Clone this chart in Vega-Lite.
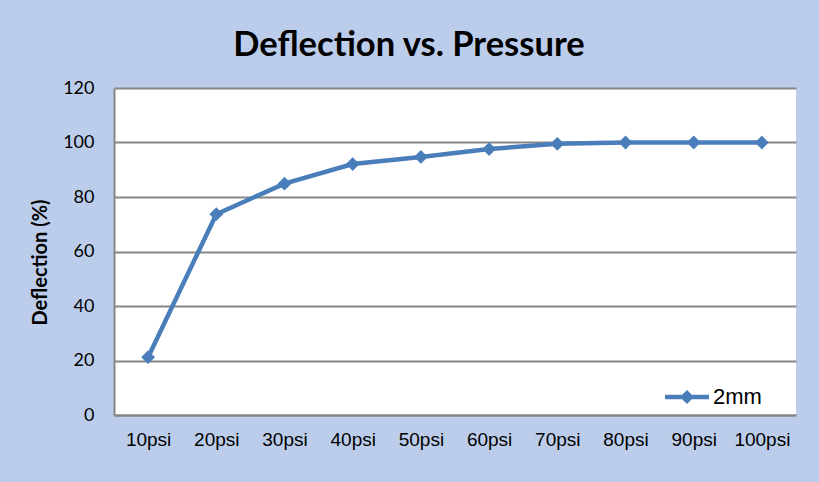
{
  "$schema": "https://vega.github.io/schema/vega-lite/v6.json",
  "width": 682,
  "height": 327,
  "autosize": "none",
  "padding": {"left": 114, "top": 88, "right": 23, "bottom": 67},
  "background": "#bccdeb",
  "title": {
    "text": "Deflection vs. Pressure",
    "font": "Lato",
    "fontSize": 34.5,
    "fontWeight": "bold",
    "color": "#000000",
    "anchor": "middle",
    "frame": "group",
    "baseline": "alphabetic",
    "dx": -46,
    "dy": 33,
    "offset": 22
  },
  "config": {
    "view": {"fill": "white", "stroke": null}
  },
  "data": {
    "values": [
      {"pressure": "10psi", "deflection": 21.2, "series": "2mm"},
      {"pressure": "20psi", "deflection": 73.7, "series": "2mm"},
      {"pressure": "30psi", "deflection": 84.9, "series": "2mm"},
      {"pressure": "40psi", "deflection": 92.1, "series": "2mm"},
      {"pressure": "50psi", "deflection": 94.7, "series": "2mm"},
      {"pressure": "60psi", "deflection": 97.6, "series": "2mm"},
      {"pressure": "70psi", "deflection": 99.5, "series": "2mm"},
      {"pressure": "80psi", "deflection": 100, "series": "2mm"},
      {"pressure": "90psi", "deflection": 100, "series": "2mm"},
      {"pressure": "100psi", "deflection": 100, "series": "2mm"}
    ]
  },
  "mark": {
    "type": "line",
    "strokeWidth": 4.5,
    "point": {"shape": "diamond", "size": 190, "filled": true}
  },
  "encoding": {
    "x": {
      "field": "pressure",
      "type": "nominal",
      "sort": ["10psi", "20psi", "30psi", "40psi", "50psi", "60psi", "70psi", "80psi", "90psi", "100psi"],
      "axis": {
        "title": null,
        "labelAngle": 0,
        "labelFont": "Liberation Sans",
        "labelFontSize": 19,
        "labelColor": "#000000",
        "labelPadding": 15,
        "ticks": false,
        "domainColor": "#868686",
        "domainWidth": 2,
        "grid": false
      }
    },
    "y": {
      "field": "deflection",
      "type": "quantitative",
      "scale": {"domain": [0, 120]},
      "axis": {
        "title": "Deflection (%)",
        "titleFont": "Lato",
        "titleFontSize": 20,
        "titleFontWeight": "bold",
        "titleColor": "#000000",
        "titlePadding": 12,
        "titleY": 174,
        "values": [0, 20, 40, 60, 80, 100, 120],
        "labelFont": "Lato",
        "labelFontSize": 18,
        "labelColor": "#000000",
        "labelPadding": 20,
        "ticks": false,
        "domainColor": "#868686",
        "domainWidth": 2,
        "gridColor": "#868686",
        "gridWidth": 2
      }
    },
    "color": {
      "field": "series",
      "type": "nominal",
      "scale": {"range": ["#4a7ebb"]},
      "legend": {
        "title": null,
        "orient": "none",
        "legendX": 551,
        "legendY": 287,
        "symbolType": "M-1,-0.1L1,-0.1L1,0.1L-1,0.1Z M0,-0.32L0.32,0L0,0.32L-0.32,0Z",
        "symbolSize": 1936,
        "symbolStrokeWidth": 0,
        "symbolFillColor": "#4a7ebb",
        "labelFont": "Liberation Sans",
        "labelFontSize": 22,
        "labelColor": "#000000",
        "labelOffset": 4
      }
    }
  }
}
